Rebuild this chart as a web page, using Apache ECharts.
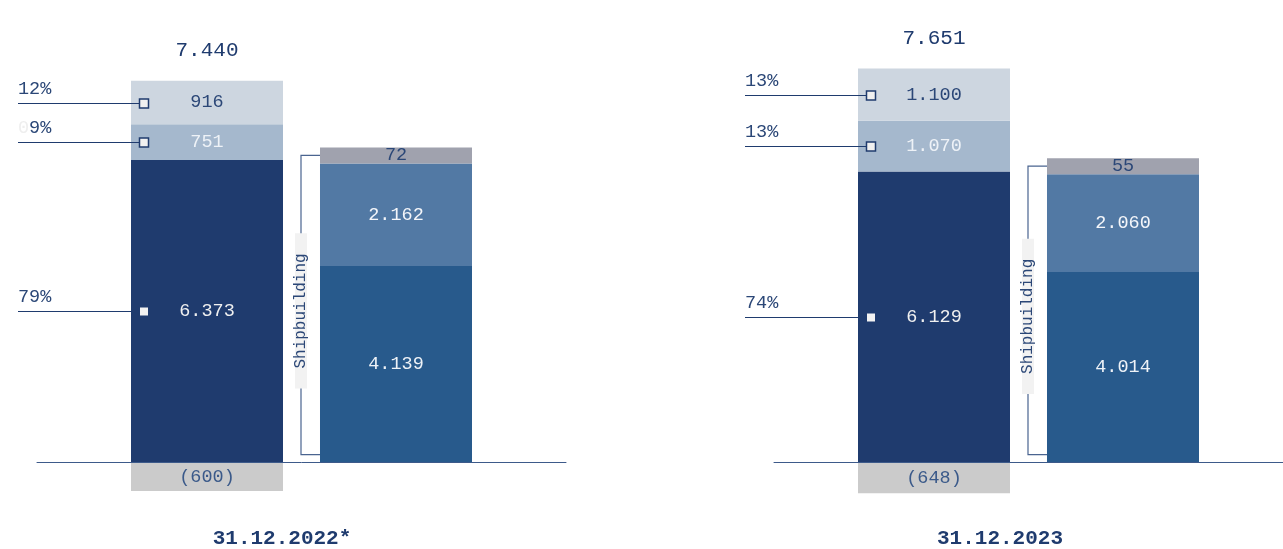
<!DOCTYPE html>
<html><head><meta charset="utf-8">
<script src="https://cdn.jsdelivr.net/npm/echarts@6/dist/echarts.min.js"></script>
<style>html,body{margin:0;padding:0;background:#fff}#c{width:1283px;height:549px}</style>
</head><body><div id="c"></div>
<script>
// ---- data ----
const panelLabels = ['31.12.2022*', '31.12.2023'];
const adjustment = [-600, -648];
const core = [6373, 6129];
const segB = [751, 1070];
const segC = [916, 1100];
const shipA = [4139, 4014];
const shipB = [2162, 2060];
const shipC = [72, 55];
const pctCore = [79, 74];
const pctB = [9, 13];
const pctC = [12, 13];
const sideLabel = 'Shipbuilding';

// ---- style ----
const FONT = "'Liberation Mono','DejaVu Sans Mono',monospace";
const NAVY = '#1f3b6e';
const TXT = '#2b4777';
const BAR_W = 152, GAP = 37;
const fmt = v => String(Math.abs(v)).replace(/\B(?=(\d{3})+(?!\d))/g, '.');

const chart = echarts.init(document.getElementById('c'), null, {renderer: 'canvas'});
const grids = [], xAxes = [], yAxes = [], series = [], graphics = [];
const gridLeft = [37, 774];
const gridWidth = [529, 509];
const dateX = [282, 1000];

function renderAnnot(params, api) {
  const kind = api.value(4);
  const cat = api.value(0);
  const lo = api.value(1), hi = api.value(2);
  const center = api.coord([cat, 0])[0];
  const mainLeft = center - (BAR_W + GAP) / 2 - BAR_W / 2;
  const subLeft = center + GAP / 2;
  if (kind <= 2) {
    const y = Math.round(api.coord([cat, (lo + hi) / 2])[1]) + 0.5;
    const s = String(api.value(3));
    const txt = s.length < 2 ? '{g|0}' + s + '%' : s + '%';
    const x0 = mainLeft - 113;
    return {type: 'group', children: [
      {type: 'line', shape: {x1: x0, y1: y, x2: mainLeft + 9, y2: y}, style: {stroke: NAVY, lineWidth: 1}},
      kind === 0
        ? {type: 'rect', shape: {x: mainLeft + 9, y: y - 4, width: 8, height: 8}, style: {fill: '#f2f2f2'}}
        : {type: 'rect', shape: {x: mainLeft + 8.5, y: y - 4.5, width: 9, height: 9}, style: {fill: '#f0f0f0', stroke: NAVY, lineWidth: 1.5}},
      {type: 'text', x: x0, y: y - 5, style: {text: txt, fontSize: 18.5, fontFamily: FONT, fill: TXT, align: 'left', verticalAlign: 'bottom',
        rich: {g: {fill: '#eeeeee', fontSize: 18.5, fontFamily: FONT}}}}
    ]};
  }
  if (kind === 3) {
    const yTop = api.coord([cat, hi])[1] - 8;
    const yBot = api.coord([cat, 0])[1] - 8;
    const bx = subLeft - 19;
    return {type: 'group', children: [
      {type: 'polyline', shape: {points: [[subLeft, yTop], [bx, yTop], [bx, yBot], [subLeft, yBot]]}, style: {stroke: '#4a6490', lineWidth: 1.2, fill: null}},
      {type: 'text', x: bx, y: (yTop + yBot) / 2 + 6, rotation: Math.PI / 2,
        style: {text: sideLabel, fontSize: 16, fontFamily: FONT, fill: TXT, align: 'center', verticalAlign: 'middle',
          backgroundColor: '#f2f2f2', padding: [0, 20], lineHeight: 12}}
    ]};
  }
  // total
  const yTop = api.coord([cat, hi])[1];
  return {type: 'text', x: mainLeft + BAR_W / 2, y: yTop - 30,
    style: {text: fmt(api.value(3)), fontSize: 21, fontFamily: FONT, fill: NAVY, align: 'center', verticalAlign: 'middle'}};
}

panelLabels.forEach((lab, i) => {
  grids.push({left: gridLeft[i], width: gridWidth[i], top: 59, height: 451});
  xAxes.push({type: 'category', gridIndex: i, data: [lab], axisLabel: {show: false}, axisTick: {show: false},
    axisLine: {onZero: true, lineStyle: {color: '#3d5a8a', width: 1}}, z: 5});
  yAxes.push({type: 'value', gridIndex: i, min: -1000, max: 8500, show: false});
  const bar = (name, stack, val, color, labColor, extra) => Object.assign({
    type: 'bar', name: name + i, stack: stack + i, xAxisIndex: i, yAxisIndex: i, data: [val],
    barWidth: BAR_W, barGap: (GAP / BAR_W * 100).toFixed(2) + '%',
    itemStyle: {color: color},
    label: {show: true, position: 'inside', color: labColor, fontFamily: FONT, fontSize: 18.5,
      formatter: () => val < 0 ? '(' + fmt(val) + ')' : fmt(val)},
    emphasis: {disabled: true}, silent: true, animation: false
  }, extra || {});
  series.push(bar('adj', 'main', adjustment[i], '#cbcbcb', '#3b5a8a'));
  series.push(bar('core', 'main', core[i], '#1f3b6e', '#f0f0f0'));
  series.push(bar('b', 'main', segB[i], '#a5b8cd', '#eef2f7'));
  series.push(bar('c', 'main', segC[i], '#cdd6e0', '#2b4777'));
  series.push(bar('sa', 'sub', shipA[i], '#285a8c', '#eef2f7'));
  series.push(bar('sb', 'sub', shipB[i], '#5279a4', '#f4f6fa'));
  series.push(bar('sc', 'sub', shipC[i], '#a0a2ae', '#2b4777', {barMinHeight: 16}));
  const total = adjustment[i] + core[i] + segB[i] + segC[i];
  const topVal = core[i] + segB[i] + segC[i];
  series.push({
    type: 'custom', xAxisIndex: i, yAxisIndex: i, z: 10, clip: false, silent: true, animation: false,
    renderItem: renderAnnot, encode: {x: 0, y: [1, 2]},
    data: [
      [0, 0, core[i], pctCore[i], 0],
      [0, core[i], core[i] + segB[i], pctB[i], 1],
      [0, core[i] + segB[i], topVal, pctC[i], 2],
      [0, 0, shipA[i] + shipB[i], 0, 3],
      [0, 0, topVal, total, 4]
    ]
  });
  graphics.push({type: 'text', x: dateX[i], y: 539,
    style: {text: lab, fontSize: 21, fontWeight: 'bold', fontFamily: FONT, fill: NAVY, align: 'center', verticalAlign: 'middle'}});
});

chart.setOption({
  animation: false,
  grid: grids, xAxis: xAxes, yAxis: yAxes, series: series, graphic: graphics
});
</script></body></html>
